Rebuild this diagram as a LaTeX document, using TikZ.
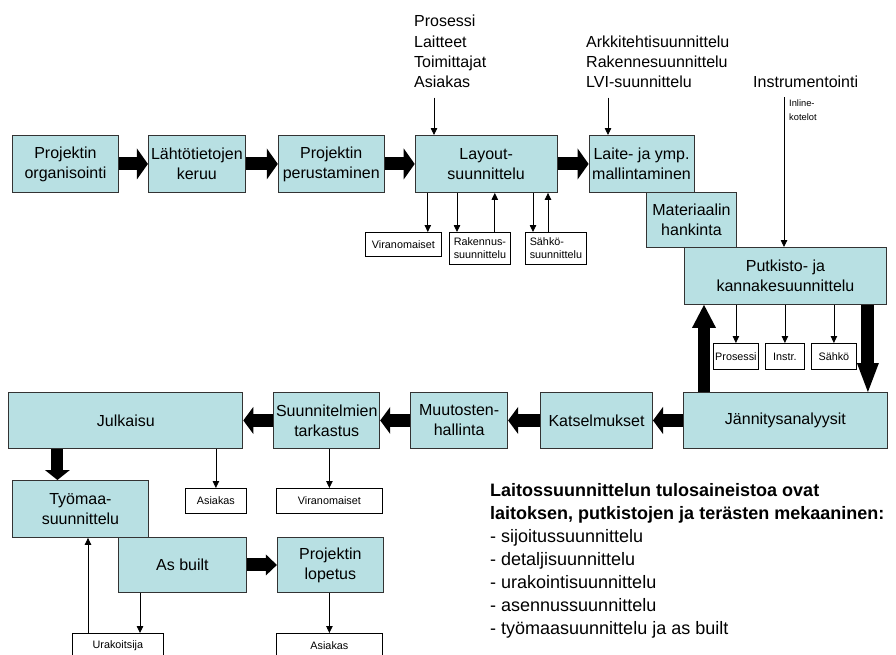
\documentclass[tikz,border=0pt]{standalone}
\usepackage{fontspec}
\setmainfont{Liberation Sans}
\usepackage{xcolor}
\usepackage{tikz}
\usetikzlibrary{arrows.meta,positioning}
\definecolor{boxfill}{RGB}{184,224,227}
\newcommand{\procfont}{\fontsize{16}{20}\selectfont}
\newcommand{\notefont}{\fontsize{10.8}{12.7}\selectfont}
\newcommand{\inputfont}{\fontsize{16}{20.3}\selectfont}
\newcommand{\hintfont}{\fontsize{9.3}{13.3}\selectfont}
\newcommand{\summaryfont}{\fontsize{18}{23}\selectfont}
\tikzset{
  procbox/.style={rectangle, draw=black!80, line width=0.9pt, fill=boxfill, align=center, font=\procfont, minimum height=56pt, inner sep=1pt},
  notebox/.style={rectangle, draw=black, line width=0.8pt, fill=white, align=left, font=\notefont, inner sep=1.5pt, anchor=north west},
  inputtext/.style={align=left, font=\inputfont, inner sep=0pt, anchor=north west},
  thinarrow/.style={-{Triangle[length=7pt,width=6.5pt]}, line width=0.8pt},
  fatarrow/.style 2 args={line width=13pt, -{Triangle[length=#1,width=#2,line width=0pt]}}
}

\begin{document}
\begin{tikzpicture}[x=1pt,y=-1pt]
\useasboundingbox (0,0) rectangle (896,654);

% upper chain
\node[procbox, minimum width=106pt, minimum height=57pt, anchor=north west] (org) at (12,135) {Projektin\\organisointi};
\node[procbox, minimum width=97pt, minimum height=57pt, right=29pt of org] (keruu) {Lähtötietojen\\keruu};
\node[procbox, minimum width=106pt, minimum height=57pt, right=32pt of keruu] (perus) {Projektin\\perustaminen};
\node[procbox, minimum width=142pt, minimum height=57pt, right=30pt of perus] (layout) {Layout-\\suunnittelu};
\node[procbox, minimum width=105pt, minimum height=57pt, right=31pt of layout] (mall) {Laite- ja ymp.\\mallintaminen};
\node[procbox, minimum width=90pt, minimum height=55pt, anchor=north west] (mater) at (646,192) {Materiaalin\\hankinta};
\node[procbox, minimum width=202pt, minimum height=57pt, anchor=north west] (putki) at (684,247) {Putkisto- ja\\kannakesuunnittelu};

% inputs from above
\node[inputtext] (inputs) at (414,15) {Prosessi\\Laitteet\\Toimittajat\\Asiakas};
\node[inputtext] (design) at (586,35.3) {Arkkitehtisuunnittelu\\Rakennesuunnittelu\\LVI-suunnittelu};
\node[inputtext] (instr) at (753,75.8) {Instrumentointi};
\node[align=left, font=\hintfont, inner sep=0pt, anchor=north west] (inline) at (789,100) {Inline-\\kotelot};

% small boxes
\node[notebox, align=center, minimum width=76pt, minimum height=24pt] (lviran) at (365,232) {Viranomaiset};
\node[notebox, minimum width=61pt, minimum height=32pt] (lrak) at (449,232) {Rakennus-\\suunnittelu};
\node[notebox, minimum width=61pt, minimum height=32pt] (lsah) at (525,232) {Sähkö-\\suunnittelu};
\node[notebox, align=center, minimum width=45pt, minimum height=26pt] (pros) at (713,343) {Prosessi};
\node[notebox, align=center, minimum width=39pt, minimum height=26pt] (pinstr) at (765,343) {Instr.};
\node[notebox, align=center, minimum width=45pt, minimum height=26pt] (psah) at (811,343) {Sähkö};

% lower chain
\node[procbox, minimum width=204pt, anchor=north west] (jann) at (683,392) {Jännitysanalyysit};
\node[procbox, minimum width=112pt, left=30pt of jann] (katsel) {Katselmukset};
\node[procbox, minimum width=97pt, left=32pt of katsel] (muut) {Muutosten-\\hallinta};
\node[procbox, minimum width=106pt, left=30pt of muut] (tark) {Suunnitelmien\\tarkastus};
\node[procbox, minimum width=234pt, left=30pt of tark] (julk) {Julkaisu};
\node[procbox, minimum width=136pt, minimum height=57pt, anchor=north west] (tyo) at (12,480) {Työmaa-\\suunnittelu};
\node[procbox, minimum width=128pt, minimum height=55pt, anchor=north west] (asb) at (118,537) {As built};
\node[procbox, minimum width=106pt, minimum height=55pt, right=30pt of asb] (lopetus) {Projektin\\lopetus};

\node[notebox, align=center, minimum width=61pt, minimum height=25pt] (jasiak) at (185,488) {Asiakas};
\node[notebox, align=center, minimum width=106pt, minimum height=25pt] (tviran) at (276,488) {Viranomaiset};
\node[notebox, align=center, minimum width=91pt, minimum height=25pt] (urak) at (72,633) {Urakoitsija};
\node[notebox, align=center, minimum width=106pt, minimum height=25pt] (lasiak) at (276,633) {Asiakas};

\node[align=left, font=\summaryfont, inner sep=0pt, anchor=north west] (summary) at (490,483) {\textbf{Laitossuunnittelun tulosaineistoa ovat}\\\textbf{laitoksen, putkistojen ja terästen mekaaninen:}\\- sijoitussuunnittelu\\- detaljisuunnittelu\\- urakointisuunnittelu\\- asennussuunnittelu\\- työmaasuunnittelu ja as built};

% main flow
\draw[fatarrow={11pt}{31pt}] (org) -- (keruu);
\draw[fatarrow={11pt}{31pt}] (keruu) -- (perus);
\draw[fatarrow={11pt}{31pt}] (perus) -- (layout);
\draw[fatarrow={11pt}{31pt}] (layout) -- (mall);
\draw[fatarrow={23pt}{24pt}, line width=12pt] ([xshift=21pt]jann.north west) -- ([xshift=21pt]jann.north west |- putki.south);
\draw[fatarrow={29pt}{22pt}] ([xshift=-19pt]putki.south east) -- ([xshift=-19pt]putki.south east |- jann.north);
\draw[fatarrow={10pt}{27pt}] (jann) -- (katsel);
\draw[fatarrow={10pt}{27pt}] (katsel) -- (muut);
\draw[fatarrow={10pt}{27pt}] (muut) -- (tark);
\draw[fatarrow={10pt}{27pt}] (tark) -- (julk);
\draw[fatarrow={10pt}{25pt}, line width=12pt] ([xshift=49pt]julk.south west) -- ([xshift=49pt]julk.south west |- tyo.north);
\draw[fatarrow={11pt}{21pt}] (asb) -- (lopetus);

% side arrows
\draw[thinarrow] ([xshift=20pt,yshift=-9.5pt]inputs.south west) -- ([xshift=20pt]inputs.south west |- layout.north);
\draw[thinarrow] ([xshift=22pt,yshift=-9.5pt]design.south west) -- ([xshift=22pt]design.south west |- mall.north);
\draw[thinarrow] ([xshift=31pt,yshift=-9.5pt]instr.south west) -- ([xshift=31pt]instr.south west |- putki.north);
\draw[thinarrow] ([xshift=-14pt]lviran.north east |- layout.south) -- ([xshift=-14pt]lviran.north east);
\draw[thinarrow] ([xshift=8pt]lrak.north west |- layout.south) -- ([xshift=8pt]lrak.north west);
\draw[thinarrow] ([xshift=-16pt]lrak.north east) -- ([xshift=-16pt]lrak.north east |- layout.south);
\draw[thinarrow] ([xshift=8pt]lsah.north west |- layout.south) -- ([xshift=8pt]lsah.north west);
\draw[thinarrow] ([xshift=23pt]lsah.north west) -- ([xshift=23pt]lsah.north west |- layout.south);
\draw[thinarrow] (putki.south -| pros.north) -- (pros.north);
\draw[thinarrow] (putki.south -| pinstr.north) -- (pinstr.north);
\draw[thinarrow] (putki.south -| psah.north) -- (psah.north);
\draw[thinarrow] (julk.south -| jasiak.north) -- (jasiak.north);
\draw[thinarrow] (tark.south -| tviran.north) -- (tviran.north);
\draw[thinarrow] ([xshift=22pt]asb.south west) -- ([xshift=22pt]asb.south west |- urak.north);
\draw[thinarrow] ([xshift=16pt]urak.north west) -- ([xshift=16pt]urak.north west |- tyo.south);
\draw[thinarrow] (lopetus.south -| lasiak.north) -- (lasiak.north);
\end{tikzpicture}
\end{document}
